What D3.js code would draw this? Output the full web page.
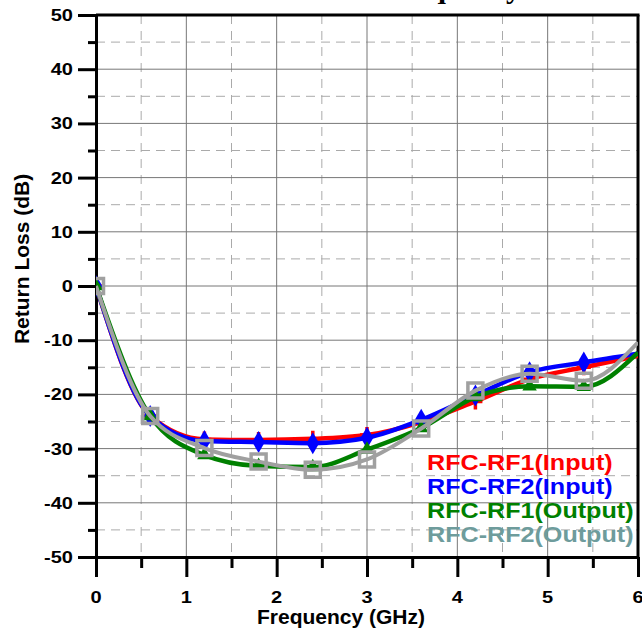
<!DOCTYPE html>
<html>
<head>
<meta charset="utf-8">
<script src="https://cdn.jsdelivr.net/npm/d3@7"></script>
<style>
  body{margin:0;background:#fff}
  svg text{font-family:"Liberation Sans",Arial,sans-serif;font-weight:bold}
</style>
</head>
<body>
<div id="chart"></div>
<script>
const freqs = [0, 0.6, 1.2, 1.8, 2.4, 3.0, 3.6, 4.2, 4.8, 5.4, 6.0]
const rf1Input = [0, -24, -28.3, -28.4, -28.2, -27.5, -25.1, -21.3, -17.2, -15.0, -12.9]
const rf2Input = [0, -24, -28.6, -28.8, -29.0, -28.0, -24.7, -20.2, -15.9, -14.1, -12.5]
const rf1Output = [0, -24, -31.2, -33.2, -33.4, -30.2, -26.2, -20.5, -18.5, -18.6, -12.3]
const rf2Output = [0, -24, -29.9, -32.4, -33.9, -32.0, -26.3, -19.3, -16.2, -17.5, -10.4]
const seriesNames = ["RFC-RF1(Input)", "RFC-RF2(Input)", "RFC-RF1(Output)", "RFC-RF2(Output)"]
const xTicks = [0, 1, 2, 3, 4, 5, 6]
const xMinor = [0.5, 1.5, 2.5, 3.5, 4.5, 5.5]
const yTicks = [-50, -40, -30, -20, -10, 0, 10, 20, 30, 40, 50]
const yMinor = [-45, -35, -25, -15, -5, 5, 15, 25, 35, 45]

const width = 642, height = 631
const margin = {top: 15, left: 96, right: 4, bottom: 74}
const stretch = 1.25

const svg = d3.select('#chart').append('svg')
  .attr('width', width)
  .attr('height', height)
  .attr('viewBox', '0,0,' + width + ',' + height)

const x = d3.scaleLinear().domain([0, 6]).range([margin.left, width - margin.right])
const y = d3.scaleLinear().domain([-50, 50]).range([height - margin.bottom, margin.top])

// grid
const grid = svg.append('g')
grid.selectAll('.xminor').data(xMinor).enter().append('line')
  .attr('x1', d => x(d)).attr('x2', d => x(d))
  .attr('y1', y(50)).attr('y2', y(-50))
  .attr('stroke', '#aaa').attr('stroke-width', 1).attr('stroke-dasharray', '9,7')
grid.selectAll('.yminor').data(yMinor).enter().append('line')
  .attr('x1', x(0)).attr('x2', x(6))
  .attr('y1', d => y(d)).attr('y2', d => y(d))
  .attr('stroke', '#aaa').attr('stroke-width', 1).attr('stroke-dasharray', '9,6')
grid.selectAll('.xmajor').data(xTicks.slice(1, -1)).enter().append('line')
  .attr('x1', d => x(d)).attr('x2', d => x(d))
  .attr('y1', y(50)).attr('y2', y(-50))
  .attr('stroke', '#777').attr('stroke-width', 1)
grid.selectAll('.ymajor').data(yTicks.slice(1, -1)).enter().append('line')
  .attr('x1', x(0)).attr('x2', x(6))
  .attr('y1', d => y(d)).attr('y2', d => y(d))
  .attr('stroke', '#777').attr('stroke-width', 1)

// axes
const yAxis = g => g
  .attr('transform', `translate(${x(0)},0)`)
  .call(d3.axisLeft(y).tickValues(yTicks).tickSize(18).tickSizeOuter(0).tickFormat(''))
const yAxisMinor = g => g
  .attr('transform', `translate(${x(0)},0)`)
  .call(d3.axisLeft(y).tickValues(yMinor).tickSize(8).tickSizeOuter(0).tickFormat(''))
  .call(g => g.select('.domain').remove())
const xAxis = g => g
  .attr('transform', `translate(0,${y(-50)})`)
  .call(d3.axisBottom(x).tickValues(xTicks).tickSize(20).tickSizeOuter(0).tickFormat(''))
const xAxisMinor = g => g
  .attr('transform', `translate(0,${y(-50)})`)
  .call(d3.axisBottom(x).tickValues(xMinor).tickSize(11).tickSizeOuter(0).tickFormat(''))
  .call(g => g.select('.domain').remove())

svg.append('g').call(yAxis)
svg.append('g').call(yAxisMinor)
svg.append('g').call(xAxis)
svg.append('g').call(xAxisMinor)
svg.selectAll('.tick line, .domain').attr('stroke', '#000').attr('stroke-width', 3)

// frame top / right
svg.append('line').attr('x1', x(0)).attr('x2', x(6) + 1.5)
  .attr('y1', y(50)).attr('y2', y(50)).attr('stroke', '#000').attr('stroke-width', 3)
svg.append('line').attr('x1', x(6)).attr('x2', x(6))
  .attr('y1', y(50)).attr('y2', y(-50)).attr('stroke', '#000').attr('stroke-width', 3)

// tick labels
svg.append('g').selectAll('text').data(yTicks).enter().append('text')
  .attr('transform', d => `translate(73,${y(d) + 6}) scale(${stretch},1)`)
  .attr('text-anchor', 'end')
  .attr('font-size', 16)
  .text(d => d)
svg.append('g').selectAll('text').data(xTicks).enter().append('text')
  .attr('transform', d => `translate(${x(d)},${y(-50) + 46}) scale(${stretch},1)`)
  .attr('text-anchor', 'middle')
  .attr('font-size', 16)
  .text(d => d)

// axis titles
svg.append('text')
  .attr('transform', `translate(${(x(0) + x(6)) / 2 - 26},${height - 7})`)
  .attr('text-anchor', 'middle')
  .attr('font-size', 21)
  .text('Frequency (GHz)')
svg.append('text')
  .attr('transform', `translate(29,${y(5)}) rotate(-90)`)
  .attr('text-anchor', 'middle')
  .attr('font-size', 21)
  .text('Return Loss (dB)')

// chart title, mostly cut off at the top edge
svg.append('text')
  .attr('x', 521).attr('y', -2)
  .attr('text-anchor', 'end')
  .style('font-family', '"Liberation Serif","Times New Roman",serif')
  .attr('font-size', 30)
  .text('Return Loss vs Frequency')

// series
const series = [
  {name: seriesNames[0], values: rf1Input, color: '#ff0000', text: '#ff0000', marker: 'plus', width: 4.5},
  {name: seriesNames[1], values: rf2Input, color: '#0000ff', text: '#0000ff', marker: 'diamond', width: 4.5},
  {name: seriesNames[2], values: rf1Output, color: '#008000', text: '#008000', marker: 'triangle', width: 4.5},
  {name: seriesNames[3], values: rf2Output, color: '#a0a0a0', text: '#6e9c9c', marker: 'square', width: 4}
]

svg.append('clipPath').attr('id', 'plot-clip').append('rect')
  .attr('x', x(0)).attr('y', y(50)).attr('width', x(6) - x(0)).attr('height', y(-50) - y(50))

const line = d3.line()
  .x(d => x(d[0]))
  .y(d => y(d[1]))
  .curve(d3.curveMonotoneX)

const plot = svg.append('g').attr('clip-path', 'url(#plot-clip)')

series.forEach(s => {
  const pts = freqs.map((f, i) => [f, s.values[i]])
  plot.append('path')
    .datum(pts)
    .attr('fill', 'none')
    .attr('stroke', s.color)
    .attr('stroke-width', s.width)
    .attr('d', line)

  const marks = plot.append('g').selectAll('path').data(pts.filter(p => p[0] < 6)).enter().append('path')
    .attr('transform', p => `translate(${x(p[0])},${y(p[1])})`)
  if(s.marker == 'plus')
    marks.attr('d', 'M-7,0H7M0,-8V8').attr('stroke', s.color).attr('stroke-width', 3.5).attr('fill', 'none')
  else if(s.marker == 'diamond')
    marks.attr('d', d3.symbol(d3.symbolDiamond, 140)).attr('fill', s.color)
  else if(s.marker == 'triangle')
    marks.attr('d', d3.symbol(d3.symbolTriangle, 90)).attr('fill', s.color)
  else
    marks.attr('d', 'M-7.5,-7.5H7.5V7.5H-7.5Z').attr('fill', 'none').attr('stroke', s.color).attr('stroke-width', 3.5)
})

// legend
svg.append('g').selectAll('text').data(series).enter().append('text')
  .attr('transform', (d, i) => `translate(427,${470 + i * 24}) scale(1.17,1)`)
  .attr('font-size', 21.5)
  .attr('fill', d => d.text)
  .text(d => d.name)
</script>
</body>
</html>
